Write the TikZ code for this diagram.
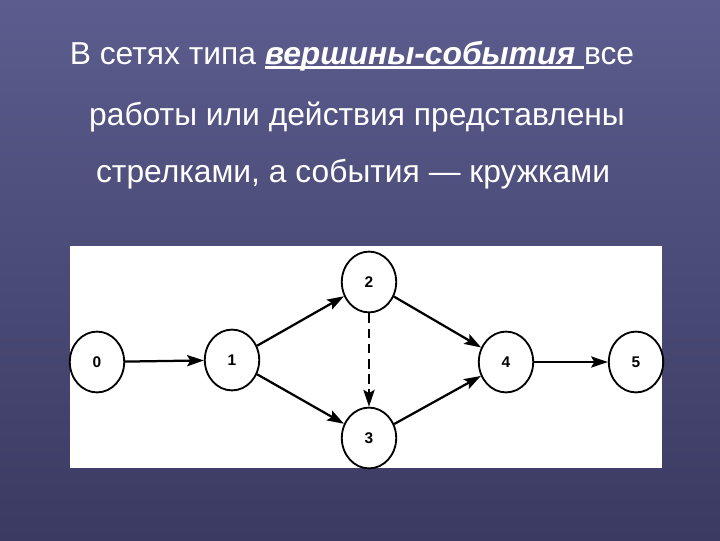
\documentclass[tikz,border=0pt]{standalone}
\usepackage{fontspec}
\setmainfont{Liberation Sans}
\usetikzlibrary{arrows.meta,shapes.geometric}
\definecolor{slidetop}{RGB}{92,92,142}
\definecolor{slidebot}{RGB}{58,58,98}
\newcommand{\ulword}[1]{\setbox0\hbox{#1}\rlap{\rule[-3.2pt]{\wd0}{1.6pt}}\box0}

\begin{document}
\begin{tikzpicture}[x=0.025cm, y=-0.025cm,
    every node/.style={ellipse, draw, line width=1.3pt, minimum width=1.36cm, minimum height=1.52cm, inner sep=0pt, font=\fontsize{11}{13}\selectfont\bfseries},
    txt/.style={draw=none, ellipse=none, rectangle, text=white, font=\fontsize{22.6}{27}\selectfont, inner sep=0pt, anchor=base},
    work/.style={line width=1.6pt, -{Stealth[length=4.2mm, width=2.8mm, inset=0.8mm]}}]
    \shade[top color=slidetop, bottom color=slidebot] (0,0) rectangle (720,540);
    \fill[white] (70,246) rectangle (662,468);
    \node[txt] (title1) at (352,64) {В сетях типа \ulword{\textbf{\textit{вершины-события }}}все};
    \node[txt] (title2) at (357,125) {работы или действия представлены};
    \node[txt] (title3) at (353,182) {стрелками, а события — кружками};
    \node (0) at (97,362) {0};
    \node (1) at (232,360) {1};
    \node (2) at (369,282) {2};
    \node (3) at (369,438) {3};
    \node (4) at (506,362) {4};
    \node (5) at (636,362) {5};
        \draw[work] (0) -- (1);
        \draw[work] (1) -- (2);
        \draw[work] (1) -- (3);
        \draw[work] (2) -- (4);
        \draw[work] (3) -- (4);
        \draw[work, line width=1.1pt] (4) -- (5);
        \draw[work, dash pattern=on 2.4mm off 1.4mm] (2) -- (3);
\end{tikzpicture}
\end{document}
